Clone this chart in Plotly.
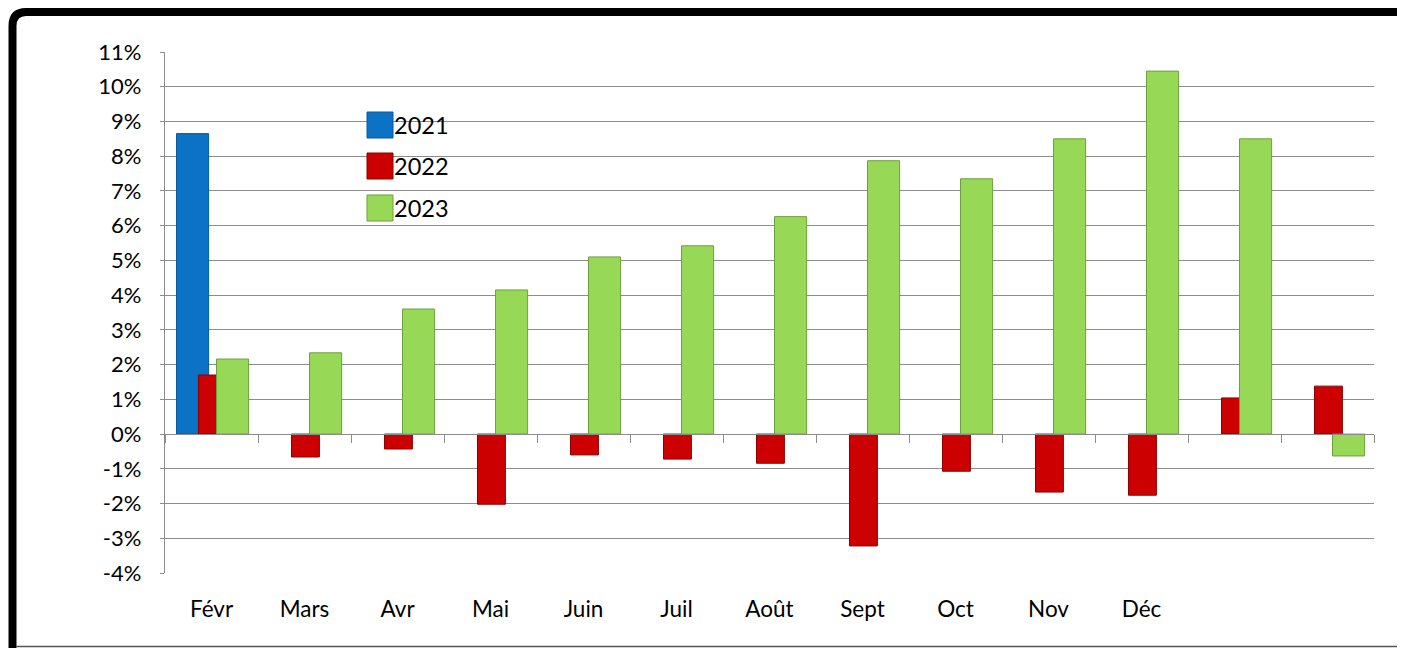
import plotly.graph_objects as go

# ---------------- data ----------------
month_labels = ["Févr", "Mars", "Avr", "Mai", "Juin", "Juil", "Août", "Sept",
                "Oct", "Nov", "Déc", "", ""]
series_names = ["2021", "2022", "2023"]
values_2021 = [8.65, None, None, None, None, None, None, None, None, None, None, None, None]
values_2022 = [1.70, -0.66, -0.43, -2.02, -0.60, -0.72, -0.84, -3.22, -1.07, -1.67, -1.76, 1.04, 1.38]
values_2023 = [2.16, 2.34, 3.60, 4.15, 5.10, 5.42, 6.26, 7.87, 7.35, 8.50, 10.45, 8.50, -0.63]
y_ticks = list(range(-4, 12))

# ---------------- style ----------------
OFF = 8  # default page body margin
W, H = 1405 - OFF, 648 - OFF
L, R, T, B = 165 - OFF, 1374 - OFF, 52 - OFF, 573 - OFF
colors = ["#0b72c6", "#cc0000", "#97d957"]
edges = ["#075a9e", "#8a0000", "#6f9f3c"]
grid = "#8c8c8c"
font = "Lato"

def px_x(p):  # page pixel -> paper
    return (p - OFF - L) / (R - L)

def px_y(p):
    return (B - (p - OFF)) / (B - T)

x_pos = list(range(len(month_labels)))
series = [values_2021, values_2022, values_2023]
widths = [0.345, 0.30, 0.345]
offsets = [-0.376, -0.14, 0.054]
axes_for = ["x", "x", "x2"]

fig = go.Figure()
for name, vals, c, e, w, o, ax in zip(series_names, series, colors, edges, widths, offsets, axes_for):
    fig.add_trace(go.Bar(
        x=x_pos, y=vals, name=name, width=w, offset=o, xaxis=ax,
        marker=dict(color=c, line=dict(color=e, width=1)),
        showlegend=False,
    ))

ymin, ymax = y_ticks[0], y_ticks[-1]
xr = [-0.5, len(month_labels) - 0.5]

fig.update_layout(
    width=W, height=H,
    margin=dict(l=L, r=W - R, t=T, b=H - B),
    paper_bgcolor="white", plot_bgcolor="white",
    barmode="overlay",
    font=dict(family=font, size=22, color="black"),
    xaxis=dict(
        type="linear", range=xr, tickvals=x_pos, ticktext=month_labels,
        showgrid=False, zeroline=False, ticks="", showline=False,
        ticklabelstandoff=20, tickfont=dict(family=font, size=22.5, color="black"),
    ),
    xaxis2=dict(
        type="linear", range=xr, overlaying="x", anchor="free",
        position=(0 - ymin) / (ymax - ymin),
        tickvals=[i - 0.5 for i in range(len(month_labels) + 1)],
        ticks="outside", ticklen=8, tickcolor=grid, tickwidth=1.3,
        showline=True, linecolor=grid, linewidth=1.3,
        showticklabels=False, showgrid=False, zeroline=False,
    ),
    yaxis=dict(
        range=[ymin, ymax], tickvals=y_ticks,
        ticktext=[f"{v}%" for v in y_ticks],
        showgrid=True, gridcolor=grid, gridwidth=1.3,
        zeroline=False, showline=True, linecolor=grid, linewidth=1.3,
        ticks="outside", ticklen=4, tickcolor=grid,
        ticklabelstandoff=14, tickfont=dict(family=font, size=22, color="black"),
    ),
)

# custom legend (large square swatches, as in the reference)
leg_y = [125, 166, 208]
for name, c, e, yc in zip(series_names, colors, edges, leg_y):
    fig.add_shape(type="rect", xref="paper", yref="paper",
                  x0=px_x(367), x1=px_x(393), y0=px_y(yc + 13), y1=px_y(yc - 13),
                  fillcolor=c, line=dict(color=e, width=1))
    fig.add_annotation(xref="paper", yref="paper", x=px_x(392), y=px_y(yc),
                       text=name, showarrow=False, xanchor="left", yanchor="middle",
                       font=dict(family=font, size=23.5, color="black"))

# outer frame: thick black top/left with rounded corner, thin grey bottom
frame_path = (f"M {px_x(12.5)},{px_y(660)} L {px_x(12.5)},{px_y(26)} "
              f"Q {px_x(12.5)},{px_y(12)} {px_x(26)},{px_y(12)} L {px_x(1420)},{px_y(12)}")
fig.add_shape(type="path", xref="paper", yref="paper", path=frame_path,
              line=dict(color="black", width=8), layer="above")
fig.add_shape(type="line", xref="paper", yref="paper",
              x0=px_x(16), x1=px_x(1410), y0=px_y(646.5), y1=px_y(646.5),
              line=dict(color="#555555", width=1.5))

fig.write_html("out.html")
